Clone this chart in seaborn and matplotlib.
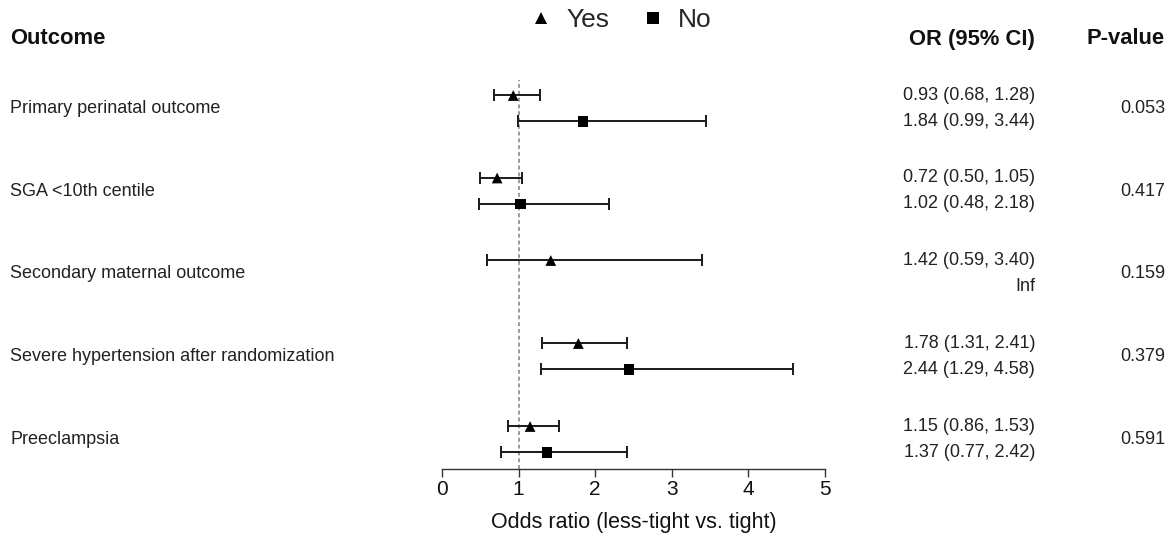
import numpy as np
import pandas as pd
import matplotlib
matplotlib.use("Agg")
import matplotlib.pyplot as plt
import matplotlib.transforms as mtrans
import seaborn as sns

# data
outcomes = ["Primary perinatal outcome", "SGA <10th centile", "Secondary maternal outcome",
            "Severe hypertension after randomization", "Preeclampsia"]
yes_or = [0.93, 0.72, 1.42, 1.78, 1.15]
yes_lo = [0.68, 0.50, 0.59, 1.31, 0.86]
yes_hi = [1.28, 1.05, 3.40, 2.41, 1.53]
no_or = [1.84, 1.02, np.nan, 2.44, 1.37]
no_lo = [0.99, 0.48, np.nan, 1.29, 0.77]
no_hi = [3.44, 2.18, np.nan, 4.58, 2.42]
p_values = ["0.053", "0.417", "0.159", "0.379", "0.591"]
x_ticks = [0, 1, 2, 3, 4, 5]

sns.set_theme(style="white")
plt.rcParams['font.family'] = ['Liberation Sans', 'DejaVu Sans']

# layout (pixel rows, y axis runs top->bottom)
row_y = [108.5, 191, 273.5, 356.5, 439.5]
off = 13

def fmt(o, l, h):
    if np.isnan(o):
        return "Inf"
    return f"{o:.2f} ({l:.2f}, {h:.2f})"

rows = []
for i in range(len(outcomes)):
    rows.append(dict(outcome=outcomes[i], group="Yes", y=row_y[i] - off,
                     OR=yes_or[i], lo=yes_lo[i], hi=yes_hi[i]))
    rows.append(dict(outcome=outcomes[i], group="No", y=row_y[i] + off,
                     OR=no_or[i], lo=no_lo[i], hi=no_hi[i]))
df = pd.DataFrame(rows)

W, H = 1174, 536
fig = plt.figure(figsize=(W / 100, H / 100), dpi=100)
ax_left, ax_right, ax_top, ax_bot = 442, 825, 80, 469
ax = fig.add_axes([ax_left / W, 1 - ax_bot / H, (ax_right - ax_left) / W, (ax_bot - ax_top) / H])

ax.axvline(1, color="#9a9a9a", lw=1.4, ls=(0, (2, 1.5)), zorder=1)

ok = df.dropna(subset=["OR"])
ax.errorbar(ok["OR"], ok["y"], xerr=[ok["OR"] - ok["lo"], ok["hi"] - ok["OR"]],
            fmt="none", ecolor="#1a1a1a", elinewidth=1.4, capsize=4.2, capthick=1.4, zorder=2)
sns.scatterplot(data=ok, x="OR", y="y", style="group", markers={"Yes": "^", "No": "s"},
                style_order=["Yes", "No"], color="black", s=60, linewidth=0, ax=ax, zorder=3)

ax.set_xlim(0, 5)
ax.set_ylim(ax_bot, ax_top)
ax.set_yticks([])
ax.set_xticks(x_ticks)
ax.set_ylabel("")
for s in ["top", "right", "left"]:
    ax.spines[s].set_visible(False)
ax.spines["bottom"].set_color("#333333")
ax.spines["bottom"].set_linewidth(1.0)
ax.tick_params(axis="x", bottom=True, direction="out", length=6, width=1.0, color="#333333",
               labelsize=15, pad=2, labelcolor="#111111")
ax.set_xlabel("Odds ratio (less-tight vs. tight)", fontsize=15.5, labelpad=9, color="#111111")

# legend at top
sns.move_legend(ax, "center", bbox_to_anchor=((620 - ax_left) / (ax_right - ax_left), (ax_bot - 20) / (ax_bot - ax_top)),
                ncol=2, frameon=False, title=None, fontsize=19, markerscale=1.15,
                handlelength=1.0, handletextpad=0.45, columnspacing=1.15)

# table columns
tr = mtrans.blended_transform_factory(fig.transFigure, ax.transData)
hdr_y = 39
ax.text(10 / W, hdr_y, "Outcome", transform=tr, ha="left", va="center", fontsize=15.8, fontweight="bold", color="#111111")
ax.text(1035 / W, hdr_y, "OR (95% CI)", transform=tr, ha="right", va="center", fontsize=15.8, fontweight="bold", color="#111111")
ax.text(1165 / W, hdr_y, "P-value", transform=tr, ha="right", va="center", fontsize=15.8, fontweight="bold", color="#111111")

for i in range(len(outcomes)):
    ax.text(10 / W, row_y[i], outcomes[i], transform=tr, ha="left", va="center", fontsize=13, color="#222222")
    ax.text(1035 / W, row_y[i] - off, fmt(yes_or[i], yes_lo[i], yes_hi[i]), transform=tr,
            ha="right", va="center", fontsize=13, color="#222222")
    ax.text(1035 / W, row_y[i] + off, fmt(no_or[i], no_lo[i], no_hi[i]), transform=tr,
            ha="right", va="center", fontsize=13, color="#222222")
    ax.text(1165 / W, row_y[i], p_values[i], transform=tr, ha="right", va="center", fontsize=13, color="#222222")

fig.savefig("out.png", dpi=100)
